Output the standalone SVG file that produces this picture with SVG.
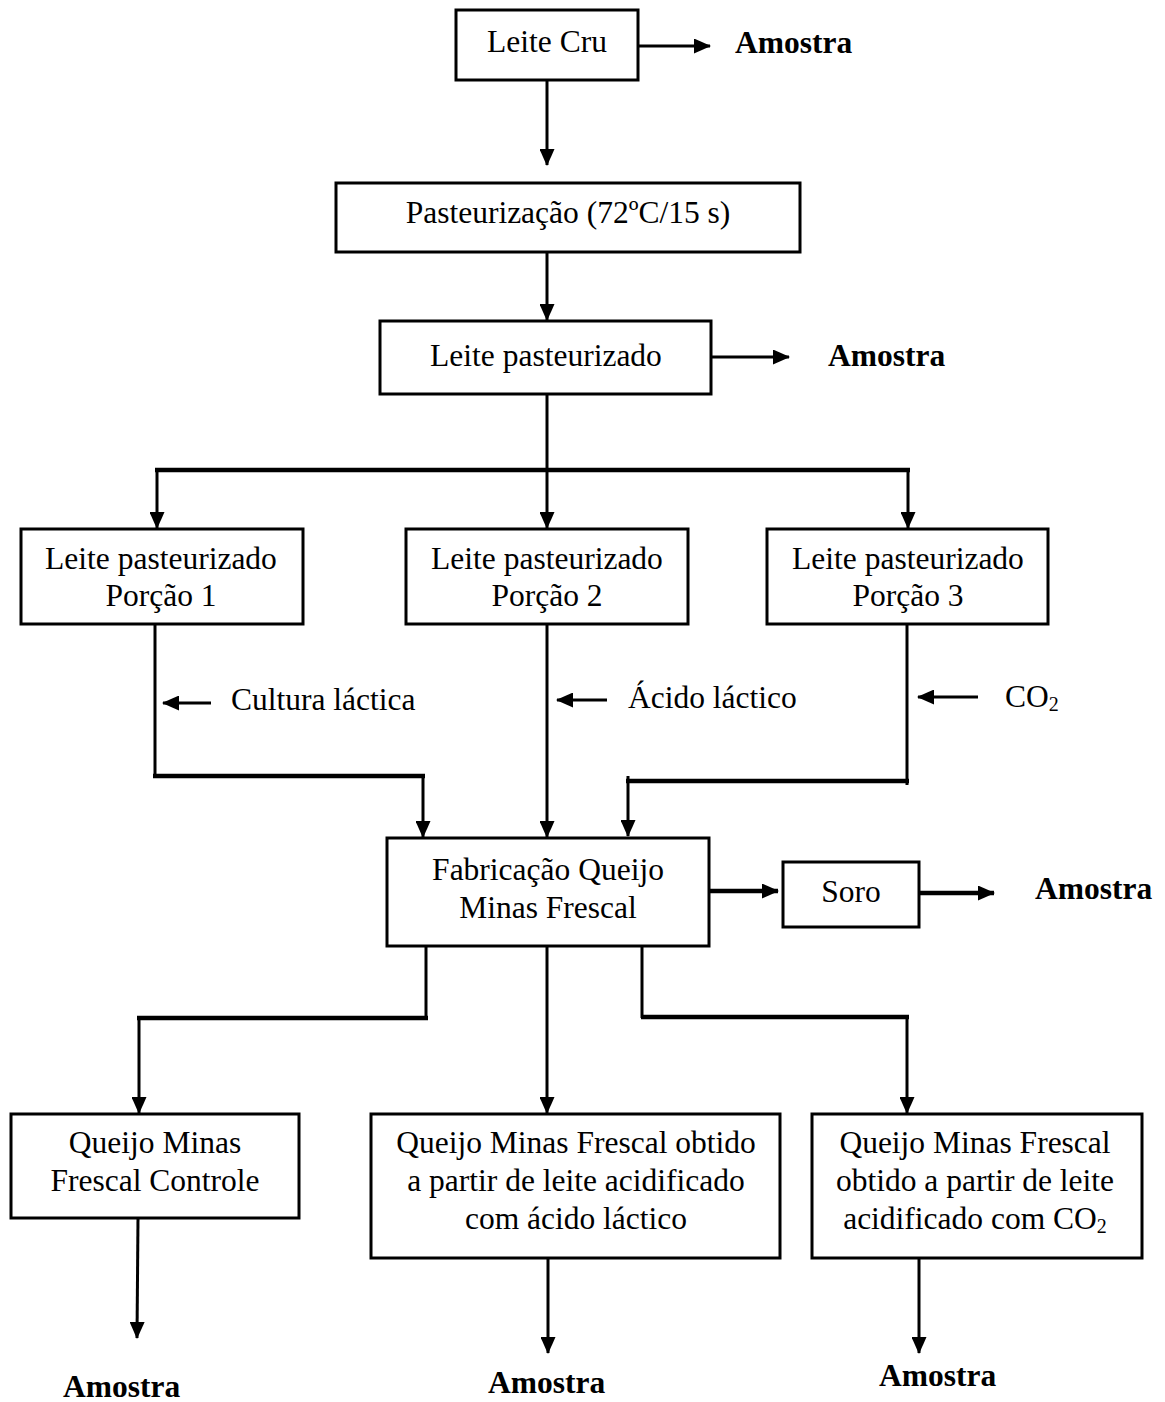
<svg xmlns="http://www.w3.org/2000/svg" width="1165" height="1402" viewBox="0 0 1165 1402">
<style>
.box{fill:#fff;stroke:#000;stroke-width:3}
.t{font-family:"Liberation Serif","Times New Roman",serif;font-size:31.5px;fill:#000;text-anchor:middle}
.tl{font-family:"Liberation Serif","Times New Roman",serif;font-size:31.5px;fill:#000}
.b{font-family:"Liberation Serif","Times New Roman",serif;font-size:31.5px;font-weight:bold;fill:#000}
.ln{fill:none;stroke:#000;stroke-width:3}
.th{fill:none;stroke:#000;stroke-width:4.5}
.sub{font-size:20px}
</style>
<defs>
<marker id="ah" markerUnits="userSpaceOnUse" markerWidth="17" markerHeight="15" refX="16" refY="7.5" orient="auto">
<path d="M0,0 L17,7.5 L0,15 Z" fill="#000"/>
</marker>
</defs>
<rect width="1165" height="1402" fill="#fff"/>
<g id="connectors">
<path class="ln" d="M638,46 H710" marker-end="url(#ah)"/>
<path class="ln" d="M547,80 V165" marker-end="url(#ah)"/>
<path class="ln" d="M547,252 V320" marker-end="url(#ah)"/>
<path class="ln" d="M711,357 H789" marker-end="url(#ah)"/>
<path class="ln" d="M547,394 V528" marker-end="url(#ah)"/>
<path class="th" d="M155,470 H910"/>
<path class="ln" d="M157,470 V528" marker-end="url(#ah)"/>
<path class="ln" d="M908,470 V528" marker-end="url(#ah)"/>
<path class="ln" d="M155,624 V778"/>
<path class="th" d="M153,776 H425"/>
<path class="ln" d="M423,774 V837" marker-end="url(#ah)"/>
<path class="ln" d="M211,703 H163" marker-end="url(#ah)"/>
<path class="ln" d="M547,624 V837" marker-end="url(#ah)"/>
<path class="ln" d="M607,700 H557" marker-end="url(#ah)"/>
<path class="ln" d="M907,624 V785"/>
<path class="th" d="M909,781 H626"/>
<path class="ln" d="M628,776 V836" marker-end="url(#ah)"/>
<path class="ln" d="M978,697 H918" marker-end="url(#ah)"/>
<path class="th" d="M709,891 H778" marker-end="url(#ah)"/>
<path class="th" d="M919,893 H994" marker-end="url(#ah)"/>
<path class="ln" d="M426,946 V1019"/>
<path class="th" d="M428,1018 H137"/>
<path class="ln" d="M139,1017 V1113" marker-end="url(#ah)"/>
<path class="ln" d="M547,946 V1113" marker-end="url(#ah)"/>
<path class="ln" d="M642,946 V1018"/>
<path class="th" d="M641,1017 H909"/>
<path class="ln" d="M907,1016 V1113" marker-end="url(#ah)"/>
<path class="ln" d="M138,1218 L137,1338" marker-end="url(#ah)"/>
<path class="ln" d="M548,1258 V1353" marker-end="url(#ah)"/>
<path class="ln" d="M919,1256 V1353" marker-end="url(#ah)"/>
</g>
<g id="n-leite-cru"><rect class="box" x="456" y="10" width="182" height="70"/><text class="t" x="547" y="52">Leite Cru</text></g>
<g id="n-amostra1"><text class="b" x="735" y="53">Amostra</text></g>
<g id="n-pasteurizacao"><rect class="box" x="336" y="183" width="464" height="69"/><text class="t" x="568" y="223">Pasteurização (72ºC/15 s)</text></g>
<g id="n-leite-past"><rect class="box" x="380" y="321" width="331" height="73"/><text class="t" x="546" y="366">Leite pasteurizado</text></g>
<g id="n-amostra2"><text class="b" x="828" y="366">Amostra</text></g>
<g id="n-p1"><rect class="box" x="21" y="529" width="282" height="95"/><text class="t" x="161" y="569">Leite pasteurizado</text><text class="t" x="161" y="606">Porção 1</text></g>
<g id="n-p2"><rect class="box" x="406" y="529" width="282" height="95"/><text class="t" x="547" y="569">Leite pasteurizado</text><text class="t" x="547" y="606">Porção 2</text></g>
<g id="n-p3"><rect class="box" x="767" y="529" width="281" height="95"/><text class="t" x="908" y="569">Leite pasteurizado</text><text class="t" x="908" y="606">Porção 3</text></g>
<g id="n-cultura"><text class="tl" x="231" y="710">Cultura láctica</text></g>
<g id="n-acido"><text class="tl" x="628" y="708">Ácido láctico</text></g>
<g id="n-co2"><text class="tl" x="1005" y="707">CO<tspan class="sub" dy="4">2</tspan></text></g>
<g id="n-fabricacao"><rect class="box" x="387" y="838" width="322" height="108"/><text class="t" x="548" y="880">Fabricação Queijo</text><text class="t" x="548" y="918">Minas Frescal</text></g>
<g id="n-soro"><rect class="box" x="783" y="862" width="136" height="65"/><text class="t" x="851" y="902">Soro</text></g>
<g id="n-amostra3"><text class="b" x="1035" y="899">Amostra</text></g>
<g id="n-q1"><rect class="box" x="11" y="1114" width="288" height="104"/><text class="t" x="155" y="1153">Queijo Minas</text><text class="t" x="155" y="1191">Frescal Controle</text></g>
<g id="n-q2"><rect class="box" x="371" y="1114" width="409" height="144"/><text class="t" x="576" y="1153">Queijo Minas Frescal obtido</text><text class="t" x="576" y="1191">a partir de leite acidificado</text><text class="t" x="576" y="1229">com ácido láctico</text></g>
<g id="n-q3"><rect class="box" x="812" y="1114" width="330" height="144"/><text class="t" x="975" y="1153">Queijo Minas Frescal</text><text class="t" x="975" y="1191">obtido a partir de leite</text><text class="t" x="975" y="1229">acidificado com CO<tspan class="sub" dy="4">2</tspan></text></g>
<g id="n-amostra4"><text class="b" x="63" y="1397">Amostra</text></g>
<g id="n-amostra5"><text class="b" x="488" y="1393">Amostra</text></g>
<g id="n-amostra6"><text class="b" x="879" y="1386">Amostra</text></g>
</svg>
